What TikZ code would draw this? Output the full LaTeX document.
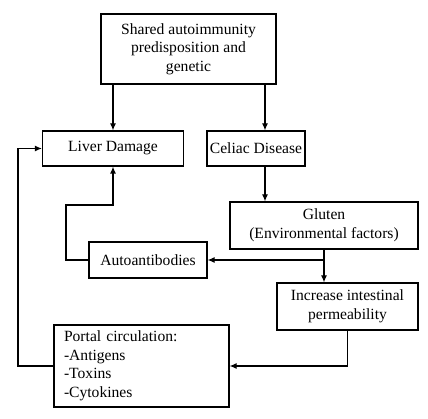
\documentclass[tikz,border=0pt]{standalone}
\usepackage{fontspec}
\setmainfont{Liberation Serif}
\usetikzlibrary{arrows.meta}
\tikzset{
  box/.style={draw, line width=1.2pt, rectangle, align=center, inner sep=0pt,
    font=\fontsize{15.6}{18.5}\selectfont},
  arr/.style={line width=1.2pt, -{Latex[length=7pt,width=6pt]}},
}
\begin{document}
\begin{tikzpicture}[x=1pt,y=-1pt]
\useasboundingbox (0,0) rectangle (428,419);
\node[box, minimum width=175pt, minimum height=70pt] (top) at (188.5,49)
  {Shared autoimmunity\\predisposition and\\genetic};
\node[box, minimum width=141pt, minimum height=35pt] (liver) at (113,148.5) {Liver Damage};
\node[box, minimum width=98pt, minimum height=35pt] (celiac) at (256,148.5) {Celiac Disease};
\node[box, minimum width=188pt, minimum height=47pt] (gluten) at (324,225.5)
  {Gluten\\(Environmental factors)};
\node[box, minimum width=118pt, minimum height=36pt] (auto) at (148,260) {Autoantibodies};
\node[box, minimum width=141pt, minimum height=47pt] (incr) at (347.5,306.5)
  {Increase intestinal\\permeability};
\node[box, minimum width=175pt, minimum height=82pt, align=left, text width=155pt] (portal) at (141.5,366)
  {Portal circulation:\\-Antigens\\-Toxins\\-Cytokines};
\coordinate (cx) at (265,0);
\coordinate (k) at (66,205);
\coordinate (lx) at (18,0);
\draw[arr] (top.south -| liver) -- (liver.north);
\draw[arr] (top.south -| cx) -- (celiac.north -| cx);
\draw[arr] (celiac.south -| cx) -- (gluten.north -| cx);
\draw[arr] (gluten.south) -- (incr.north -| gluten.south);
\draw[arr] (gluten.south |- auto.east) -- (auto.east);
\draw[arr] (incr.south) |- (portal.east);
\draw[arr] (auto.west) -| (k) -| (liver.south);
\draw[arr] (portal.west) -| (lx |- liver.west) -- (liver.west);
\end{tikzpicture}
\end{document}
